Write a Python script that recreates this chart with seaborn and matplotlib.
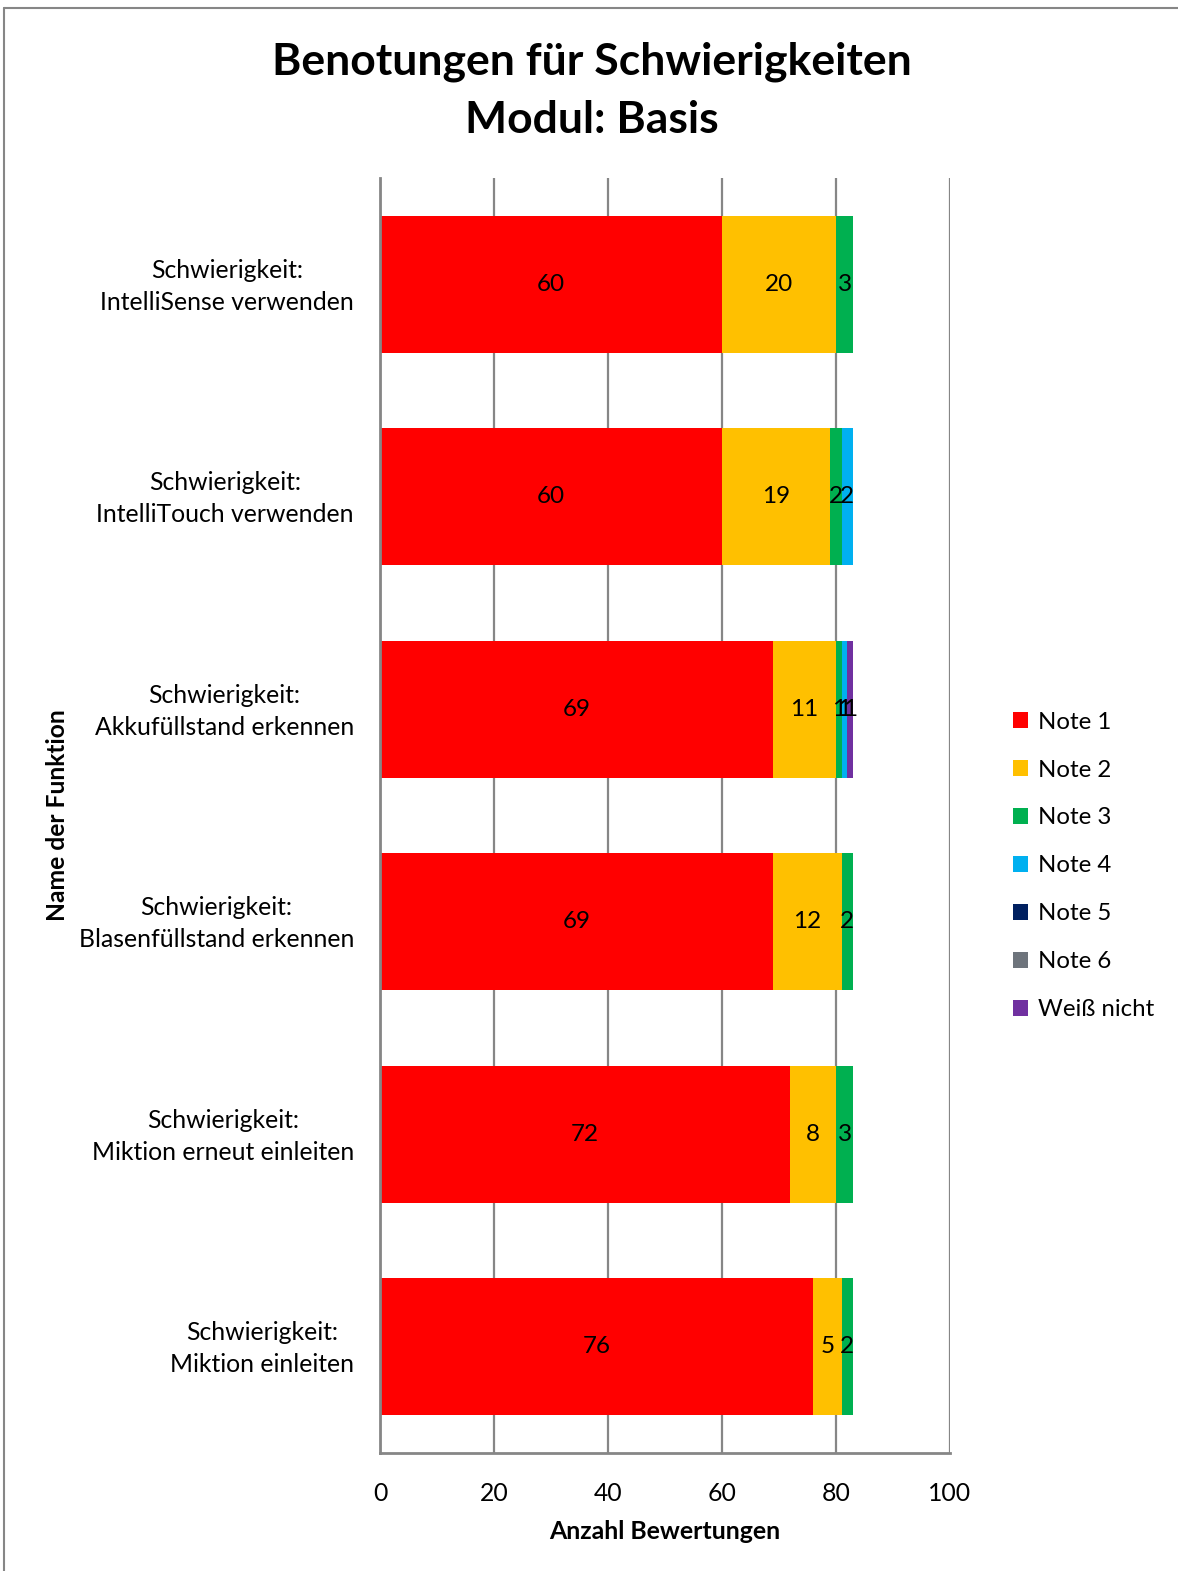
import matplotlib
matplotlib.use("Agg")
import matplotlib.pyplot as plt
from matplotlib.lines import Line2D
from matplotlib.patches import Patch
import matplotlib.transforms as mtransforms
import numpy as np
import pandas as pd
import seaborn as sns

# Functions rated (top to bottom)
categories = [
    "Schwierigkeit:\nIntelliSense verwenden",
    "Schwierigkeit:\nIntelliTouch verwenden",
    "Schwierigkeit:\nAkkufüllstand erkennen",
    "Schwierigkeit:\nBlasenfüllstand erkennen",
    "Schwierigkeit:\nMiktion erneut einleiten",
    "Schwierigkeit:\nMiktion einleiten",
]

# Number of ratings per grade
note_1 = [60, 60, 69, 69, 72, 76]
note_2 = [20, 19, 11, 12, 8, 5]
note_3 = [3, 2, 1, 2, 3, 2]
note_4 = [0, 2, 1, 0, 0, 0]
note_5 = [0, 0, 0, 0, 0, 0]
note_6 = [0, 0, 0, 0, 0, 0]
weiss_nicht = [0, 0, 1, 0, 0, 0]

series_names = ["Note 1", "Note 2", "Note 3", "Note 4", "Note 5", "Note 6", "Weiß nicht"]
series_values = [note_1, note_2, note_3, note_4, note_5, note_6, weiss_nicht]
series_colors = ["#FF0000", "#FFC000", "#00B050", "#00B0F0", "#002060", "#6E747C", "#7030A0"]

x_ticks = [0, 20, 40, 60, 80, 100]

sns.set_theme(style="white")
plt.rcParams["font.family"] = ["Lato", "DejaVu Sans"]
plt.rcParams["text.color"] = "black"
plt.rcParams["axes.labelcolor"] = "black"
plt.rcParams["xtick.color"] = "black"
plt.rcParams["ytick.color"] = "black"

df = pd.DataFrame({name: vals for name, vals in zip(series_names, series_values)})
df.insert(0, "Funktion", categories)
cum = df[series_names].cumsum(axis=1)

fig = plt.figure(figsize=(11.78, 15.71), dpi=100)
ax = fig.add_axes([380 / 1178, 118 / 1571, 570 / 1178, 1275 / 1571])

# Stacked bars: draw cumulative totals from the outermost segment inwards
for name, color in reversed(list(zip(series_names, series_colors))):
    sns.barplot(x=cum[name], y=df["Funktion"], color=color, orient="h",
                width=0.645, linewidth=0, saturation=1, ax=ax, zorder=3)

# Segment value labels
for name in series_names:
    starts = cum[name] - df[name]
    for i, (s, v) in enumerate(zip(starts, df[name])):
        if v > 0:
            ax.text(s + v / 2, i, f"{v}", ha="center", va="center",
                    fontsize=17.5, color="black", zorder=5)

ax.set_xlim(0, 100)
ax.set_ylim(5.5, -0.5)
ax.set_xticks(x_ticks)
ax.set_xticklabels([str(t) for t in x_ticks], fontsize=17.8)
ax.tick_params(axis="x", length=0, pad=21)

# Category labels, right-aligned left of the axis, centred lines
ax.set_yticks(range(len(categories)))
ax.set_yticklabels([])
ax.tick_params(axis="y", length=0)
label_tf = ax.get_yaxis_transform() + mtransforms.ScaledTranslation(-26 / 100, -2 / 100, fig.dpi_scale_trans)
for i, cat in enumerate(df["Funktion"]):
    ax.text(0, i, cat, transform=label_tf, ha="right", va="center",
            multialignment="center", fontsize=17.8, linespacing=1.45)

ax.grid(axis="x", color="#868686", linewidth=1.6, zorder=0)
ax.grid(axis="y", visible=False)
ax.set_axisbelow(True)
for side in ["top", "right"]:
    ax.spines[side].set_visible(False)
for side in ["left", "bottom"]:
    ax.spines[side].set_color("#868686")
    ax.spines[side].set_linewidth(2)
    ax.spines[side].set_zorder(4)

ax.set_xlabel("Anzahl Bewertungen", fontsize=17.9, fontweight="bold", labelpad=11)
ax.set_ylabel("Name der Funktion", fontsize=17.7, fontweight="bold")
ax.yaxis.set_label_coords((69 - 380) / 570, 0.5)

fig.suptitle("Benotungen für Schwierigkeiten\nModul: Basis", x=592 / 1178, y=1 - 42 / 1571,
             fontsize=32, fontweight="bold", va="top", linespacing=1.53, color="black")

handles = [Patch(facecolor=c, edgecolor="none") for c in series_colors]
fig.legend(handles, series_names, loc="upper left",
           bbox_to_anchor=(1003 / 1178, 1 - 702 / 1571), frameon=False,
           fontsize=17.3, handlelength=0.65, handleheight=0.65, handletextpad=0.4,
           labelspacing=1.12, borderaxespad=0)

# Outer chart frame
fig.add_artist(Line2D([3.5 / 1178, 3.5 / 1178], [0, 1 - 8 / 1571], color="#868686", lw=1.5))
fig.add_artist(Line2D([3.5 / 1178, 1], [1 - 8 / 1571, 1 - 8 / 1571], color="#868686", lw=1.5))

fig.savefig("out.png", dpi=100)
